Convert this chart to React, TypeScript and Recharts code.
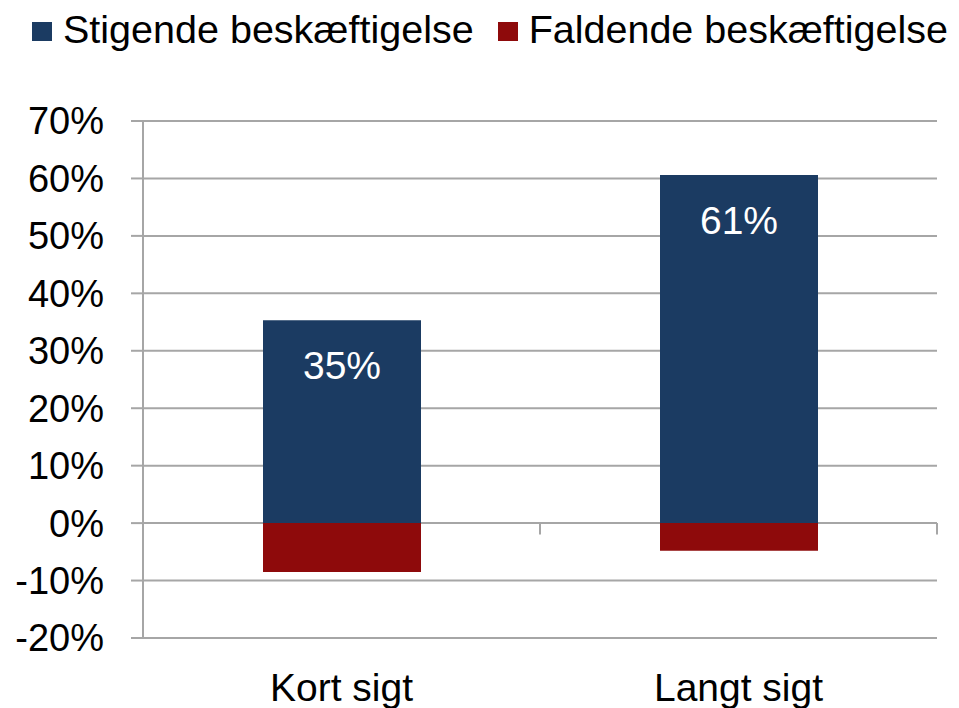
import React from "react";
import {
  BarChart,
  Bar,
  XAxis,
  YAxis,
  CartesianGrid,
  Legend,
  LabelList,
  ReferenceLine,
} from "recharts";

const categories = ["Kort sigt", "Langt sigt"];
const risingValues = [35.3, 60.6];
const fallingValues = [-8.5, -4.8];
const yTicks = [-20, -10, 0, 10, 20, 30, 40, 50, 60, 70];
const seriesNames = ["Stigende beskæftigelse", "Faldende beskæftigelse"];
const separatorPositions = [1, 2];

const BLUE = "#1B3B62";
const RED = "#8E0A0B";
const GRID = "#A6A6A6";
const FONT = "'Liberation Sans', Arial, sans-serif";

const data = categories.map((name, i) => ({
  name,
  rise: risingValues[i],
  fall: fallingValues[i],
  sepPos: separatorPositions[i],
}));

const seriesColors = [BLUE, RED];

function LegendContent() {
  return (
    <div
      style={{
        height: 60,
        boxSizing: "border-box",
        paddingTop: 10,
        display: "flex",
        alignItems: "flex-start",
        fontFamily: FONT,
        fontSize: 39.5,
        lineHeight: "39.5px",
        color: "#000",
        paddingLeft: 32,
        whiteSpace: "nowrap",
      }}
    >
      {seriesNames.map((n, i) => (
        <div
          key={n}
          style={{
            display: "flex",
            alignItems: "flex-start",
            marginLeft: i === 0 ? 0 : 24,
          }}
        >
          <div
            style={{
              width: 20,
              height: 19,
              marginTop: 12,
              background: seriesColors[i],
              marginRight: 11,
            }}
          />
          <span>{n}</span>
        </div>
      ))}
    </div>
  );
}

export default function App() {
  return (
    <div
      style={{
        position: "absolute",
        left: 0,
        top: 0,
        width: 959,
        height: 708,
        background: "#fff",
        fontFamily: FONT,
      }}
    >
      <BarChart
        width={959}
        height={708}
        data={data}
        stackOffset="sign"
        margin={{ top: 61, right: 22, bottom: 0, left: 0 }}
      >
        <Legend
          verticalAlign="top"
          align="left"
          wrapperStyle={{ top: 0, left: 0, width: 959 }}
          content={() => <LegendContent />}
        />
        <CartesianGrid vertical={false} stroke={GRID} strokeWidth={2} />
        <XAxis
          dataKey="name"
          tickLine={false}
          axisLine={false}
          tickSize={0}
          tickMargin={35}
          height={70}
          tick={{ fill: "#000", fontSize: 39, fontFamily: FONT }}
        />
        <XAxis
          xAxisId="sep"
          dataKey="sepPos"
          type="number"
          domain={[0, 2]}
          allowDataOverflow
          hide
        />
        <YAxis
          width={143}
          domain={[-20, 70]}
          ticks={yTicks}
          interval={0}
          tickFormatter={(v: number) => `${v}%`}
          axisLine={{ stroke: GRID, strokeWidth: 2 }}
          tickLine={{ stroke: GRID, strokeWidth: 2 }}
          tickSize={12}
          tickMargin={27}
          tick={{ fill: "#000", fontSize: 38, fontFamily: FONT }}
        />
        <Bar
          dataKey="rise"
          name={seriesNames[0]}
          stackId="a"
          fill={BLUE}
          barSize={158}
          isAnimationActive={false}
        >
          <LabelList
            dataKey="rise"
            position="insideTop"
            offset={31}
            fill="#fff"
            fontSize={39}
            fontFamily={FONT}
            formatter={(v: any) => `${Math.round(Number(v))}%`}
          />
        </Bar>
        <Bar
          dataKey="fall"
          name={seriesNames[1]}
          stackId="a"
          fill={RED}
          barSize={158}
          isAnimationActive={false}
        />
        {separatorPositions.map((p) => (
          <ReferenceLine
            key={`sep-${p}`}
            xAxisId="sep"
            ifOverflow="visible"
            segment={[
              { x: p, y: 0 },
              { x: p, y: -2 },
            ]}
            stroke={GRID}
            strokeWidth={2}
          />
        ))}
      </BarChart>
    </div>
  );
}
